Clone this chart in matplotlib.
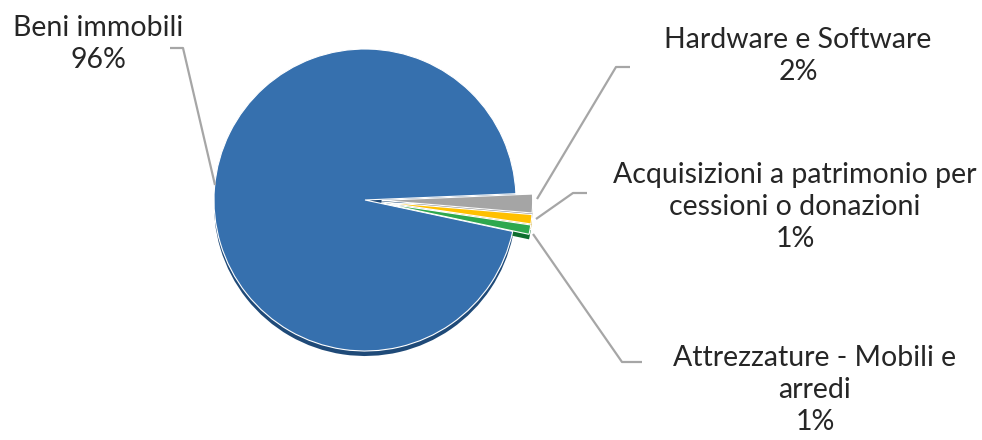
import matplotlib.pyplot as plt
import numpy as np

categories = ["Beni immobili", "Hardware e Software",
              "Acquisizioni a patrimonio per\ncessioni o donazioni",
              "Attrezzature - Mobili e\narredi"]
values = [96, 2, 1, 1]
colors = ["#3670AE", "#A5A5A5", "#FFC000", "#2EA84E"]
dark = ["#1F4A78", "#7F7F7F", "#C79500", "#0E6E2E"]

H = 440
def py(y):
    # pixel row -> data y
    return H - y

fig = plt.figure(figsize=(9.82, 4.40), dpi=100)
ax = fig.add_axes([0, 0, 1, 1])
ax.set_xlim(0, 982)
ax.set_ylim(0, H)
ax.axis("off")

cx, cy, r = 365, py(200), 151
# explode is in data units when radius != 1
explode = [0, 0.11 * r, 0.11 * r, 0.11 * r]
start = -12

# 3d rim
ax.pie(values, colors=dark, center=(cx, cy - 5), radius=r, startangle=start,
       counterclock=False, explode=explode,
       wedgeprops=dict(edgecolor="none"))
wedges, _ = ax.pie(values, colors=colors, center=(cx, cy), radius=r,
                   startangle=start, counterclock=False, explode=explode,
                   wedgeprops=dict(edgecolor="white", linewidth=0.8))
ax.set_xlim(0, 982)
ax.set_ylim(0, H)
ax.set_aspect("auto")

plt.rcParams["font.family"] = ["Lato", "DejaVu Sans"]
total = sum(values)
labels = [f"{c}\n{v / total * 100:.0f}%" for c, v in zip(categories, values)]

# leader lines (pixel coords: start, elbow, end)
leaders = [
    [(215, 185), (183, 48), (170, 48)],
    [(537, 199), (616, 67), (630, 67)],
    [(536, 219), (573, 193), (587, 193)],
    [(533, 234), (622, 362), (642, 362)],
]
for pts in leaders:
    xs = [p[0] for p in pts]
    ys = [py(p[1]) for p in pts]
    ax.plot(xs, ys, color="#A6A6A6", lw=1.6, solid_capstyle="butt")

label_pos = [(98, 44), (798, 56), (795, 207), (815, 390)]
for lab, (x, y) in zip(labels, label_pos):
    ax.text(x, py(y), lab, ha="center", va="center", fontsize=20.5,
            color="#262626", linespacing=1.3)

fig.savefig("out.png", dpi=100)
